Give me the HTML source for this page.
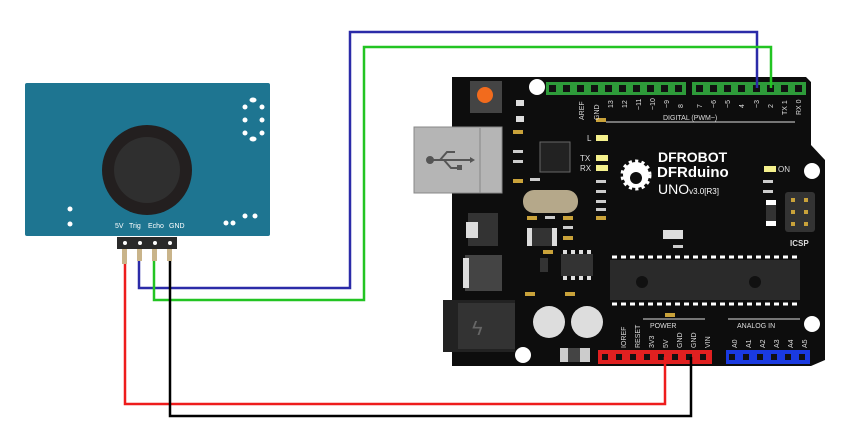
<!DOCTYPE html>
<html><head><meta charset="utf-8"><style>
html,body{margin:0;padding:0;background:#fff;width:854px;height:430px;overflow:hidden}
svg text{font-family:"Liberation Sans",sans-serif}
</style></head><body>
<svg width="854" height="430" viewBox="0 0 854 430" xmlns="http://www.w3.org/2000/svg">
<path d="M452 77 H806 L811 82 V145 L825 160 V360 L811 366 H452 Z" fill="#0d0d0d"/>
<circle cx="537" cy="87" r="8" fill="#fff"/>
<circle cx="812" cy="171" r="8" fill="#fff"/>
<circle cx="812" cy="324" r="8" fill="#fff"/>
<circle cx="523" cy="355" r="8" fill="#fff"/>
<rect x="470" y="81" width="32" height="32" fill="#444"/>
<circle cx="485" cy="95" r="8" fill="#f26b1d"/>
<rect x="516" y="100" width="8" height="6" fill="#ddd"/><rect x="516" y="116" width="8" height="6" fill="#ddd"/>
<!-- USB -->
<rect x="414" y="127" width="88" height="66" fill="#b5b5b5" stroke="#888"/>
<line x1="480" y1="128" x2="480" y2="193" stroke="#888"/>
<g stroke="#555" stroke-width="2" fill="#555"><line x1="430" y1="160" x2="470" y2="160"/><circle cx="430" cy="160" r="3"/><polyline points="440,160 447,152 455,152" fill="none"/><polyline points="444,160 451,168 458,168" fill="none"/><rect x="457" y="165" width="5" height="5" stroke="none"/><polygon points="470,157 475,160 470,163" stroke="none"/></g>
<!-- small smd parts -->
<g fill="#c9a23a"><rect x="513" y="130" width="10" height="4"/><rect x="513" y="179" width="10" height="4"/><rect x="527" y="216" width="10" height="4"/><rect x="563" y="216" width="10" height="4"/><rect x="563" y="236" width="10" height="4"/><rect x="543" y="250" width="10" height="4"/><rect x="525" y="292" width="10" height="4"/><rect x="565" y="292" width="10" height="4"/><rect x="665" y="313" width="10" height="4"/><rect x="596" y="216" width="10" height="4"/><rect x="596" y="118" width="10" height="4"/></g>
<g fill="#ccc"><rect x="513" y="150" width="10" height="3"/><rect x="513" y="160" width="10" height="3"/><rect x="530" y="178" width="10" height="3"/><rect x="545" y="216" width="10" height="3"/><rect x="596" y="180" width="10" height="3"/><rect x="596" y="190" width="10" height="3"/><rect x="596" y="200" width="10" height="3"/><rect x="596" y="208" width="10" height="3"/><rect x="763" y="180" width="10" height="3"/><rect x="763" y="190" width="10" height="3"/><rect x="563" y="226" width="10" height="3"/><rect x="673" y="245" width="10" height="3"/></g>
<rect x="663" y="230" width="20" height="9" fill="#ddd"/>
<rect x="766" y="200" width="10" height="26" fill="#fff"/><rect x="766" y="205" width="10" height="16" fill="#333"/>
<rect x="527" y="228" width="30" height="18" fill="#ddd"/><rect x="532" y="228" width="20" height="18" fill="#333"/>
<rect x="540" y="258" width="8" height="14" fill="#333"/>
<rect x="540" y="142" width="30" height="30" fill="#222" stroke="#666"/>
<rect x="523" y="190" width="55" height="23" rx="11" fill="#b5a88a"/>
<rect x="468" y="213" width="30" height="33" fill="#333"/>
<rect x="466" y="222" width="12" height="16" fill="#ddd"/>
<rect x="465" y="255" width="37" height="36" fill="#444"/>
<rect x="463" y="258" width="6" height="30" fill="#ddd"/>
<rect x="443" y="300" width="72" height="52" fill="#222"/>
<rect x="458" y="303" width="57" height="46" fill="#333"/>
<text x="472" y="335" font-size="20" fill="#666">ϟ</text>
<circle cx="549" cy="322" r="16" fill="#ddd"/><circle cx="587" cy="322" r="16" fill="#ddd"/>
<rect x="560" y="348" width="30" height="14" fill="#ccc"/><rect x="568" y="348" width="12" height="14" fill="#444"/>
<rect x="561" y="254" width="32" height="22" fill="#333"/>
<g fill="#ddd"><rect x="563" y="250" width="4" height="4"/><rect x="571" y="250" width="4" height="4"/><rect x="579" y="250" width="4" height="4"/><rect x="587" y="250" width="4" height="4"/><rect x="563" y="276" width="4" height="4"/><rect x="571" y="276" width="4" height="4"/><rect x="579" y="276" width="4" height="4"/><rect x="587" y="276" width="4" height="4"/></g>
<rect x="610" y="260" width="190" height="40" fill="#2a2a2a"/>
<circle cx="642" cy="282" r="6" fill="#111"/><circle cx="755" cy="282" r="6" fill="#111"/>
<line x1="612" y1="257" x2="798" y2="257" stroke="#fff" stroke-width="3" stroke-dasharray="5 4"/>
<line x1="612" y1="304" x2="798" y2="304" stroke="#fff" stroke-width="3" stroke-dasharray="5 4"/>
<rect x="785" y="192" width="30" height="40" rx="3" fill="#333"/>
<g fill="#c9a23a"><rect x="791" y="198" width="4" height="4"/><rect x="804" y="198" width="4" height="4"/><rect x="791" y="210" width="4" height="4"/><rect x="804" y="210" width="4" height="4"/><rect x="791" y="222" width="4" height="4"/><rect x="804" y="222" width="4" height="4"/></g>
<text x="790" y="246" font-size="8" fill="#ddd" font-weight="bold">ICSP</text>
<rect x="596" y="135" width="12" height="6" fill="#f4f08c"/>
<rect x="596" y="155" width="12" height="6" fill="#f4f08c"/>
<rect x="596" y="165" width="12" height="6" fill="#f4f08c"/>
<rect x="764" y="166" width="12" height="6" fill="#f4f08c"/>
<text x="587" y="141" font-size="8" fill="#ddd">L</text>
<text x="580" y="161" font-size="8" fill="#ddd">TX</text>
<text x="580" y="171" font-size="8" fill="#ddd">RX</text>
<text x="778" y="172" font-size="8" fill="#ddd">ON</text>
<circle cx="636" cy="175" r="13" fill="#fff"/><circle cx="636" cy="175" r="13" fill="none" stroke="#fff" stroke-width="5" stroke-dasharray="3 3"/><circle cx="636" cy="178" r="6" fill="#0d0d0d"/>
<text x="658" y="162" font-size="14" fill="#fff" font-weight="bold">DFROBOT</text>
<text x="657" y="177" font-size="15" fill="#fff" font-weight="bold">DFRduino</text>
<text x="658" y="194" font-size="14" fill="#fff">UNO<tspan font-size="8">v3.0[R3]</tspan></text>
<rect x="546" y="82" width="140" height="13" fill="#2e9b3a"/>
<rect x="692" y="82" width="114" height="13" fill="#2e9b3a"/>
<g fill="#111">
<rect x="549" y="85" width="7" height="7"/><rect x="563" y="85" width="7" height="7"/><rect x="577" y="85" width="7" height="7"/><rect x="591" y="85" width="7" height="7"/><rect x="605" y="85" width="7" height="7"/><rect x="619" y="85" width="7" height="7"/><rect x="633" y="85" width="7" height="7"/><rect x="647" y="85" width="7" height="7"/><rect x="661" y="85" width="7" height="7"/><rect x="675" y="85" width="7" height="7"/>
<rect x="696" y="85" width="7" height="7"/><rect x="710" y="85" width="7" height="7"/><rect x="724" y="85" width="7" height="7"/><rect x="738" y="85" width="7" height="7"/><rect x="753" y="85" width="7" height="7"/><rect x="767" y="85" width="7" height="7"/><rect x="781" y="85" width="7" height="7"/><rect x="795" y="85" width="7" height="7"/>
</g>
<line x1="606" y1="122" x2="795" y2="122" stroke="#ddd"/>
<text x="663" y="120" font-size="7" fill="#ddd">DIGITAL (PWM~)</text>
<rect x="598" y="350" width="114" height="14" fill="#e02020"/>
<rect x="726" y="350" width="84" height="14" fill="#1a3ae0"/>
<g fill="#111">
<rect x="602" y="354" width="6" height="6"/><rect x="616" y="354" width="6" height="6"/><rect x="630" y="354" width="6" height="6"/><rect x="644" y="354" width="6" height="6"/><rect x="658" y="354" width="6" height="6"/><rect x="672" y="354" width="6" height="6"/><rect x="686" y="354" width="6" height="6"/><rect x="700" y="354" width="6" height="6"/>
<rect x="729" y="354" width="6" height="6"/><rect x="743" y="354" width="6" height="6"/><rect x="757" y="354" width="6" height="6"/><rect x="771" y="354" width="6" height="6"/><rect x="785" y="354" width="6" height="6"/><rect x="799" y="354" width="6" height="6"/>
</g>
<line x1="643" y1="319" x2="705" y2="319" stroke="#ddd"/>
<line x1="728" y1="319" x2="800" y2="319" stroke="#ddd"/>
<text x="650" y="328" font-size="7" fill="#ddd">POWER</text>
<text x="737" y="328" font-size="7" fill="#ddd">ANALOG IN</text>
<g font-size="7" fill="#ddd">
<text transform="translate(626,348) rotate(-90)">IOREF</text>
<text transform="translate(640,348) rotate(-90)">RESET</text>
<text transform="translate(654,348) rotate(-90)">3V3</text>
<text transform="translate(668,348) rotate(-90)">5V</text>
<text transform="translate(682,348) rotate(-90)">GND</text>
<text transform="translate(696,348) rotate(-90)">GND</text>
<text transform="translate(710,348) rotate(-90)">VIN</text>
<text transform="translate(737,348) rotate(-90)">A0</text>
<text transform="translate(751,348) rotate(-90)">A1</text>
<text transform="translate(765,348) rotate(-90)">A2</text>
<text transform="translate(779,348) rotate(-90)">A3</text>
<text transform="translate(793,348) rotate(-90)">A4</text>
<text transform="translate(807,348) rotate(-90)">A5</text>
<text transform="translate(584,120) rotate(-90)">AREF</text>
<text transform="translate(599,120) rotate(-90)">GND</text>
<text transform="translate(613,108) rotate(-90)">13</text>
<text transform="translate(627,108) rotate(-90)">12</text>
<text transform="translate(641,110) rotate(-90)">~11</text>
<text transform="translate(655,110) rotate(-90)">~10</text>
<text transform="translate(669,108) rotate(-90)">~9</text>
<text transform="translate(683,108) rotate(-90)">8</text>
<text transform="translate(702,108) rotate(-90)">7</text>
<text transform="translate(716,108) rotate(-90)">~6</text>
<text transform="translate(730,108) rotate(-90)">~5</text>
<text transform="translate(744,108) rotate(-90)">4</text>
<text transform="translate(759,108) rotate(-90)">~3</text>
<text transform="translate(773,108) rotate(-90)">2</text>
<text transform="translate(787,115) rotate(-90)">TX 1</text>
<text transform="translate(801,115) rotate(-90)">RX 0</text>
</g>
<rect x="25" y="83" width="245" height="153" rx="2" fill="#1e7591"/>
<circle cx="147" cy="170" r="45" fill="#231f1f"/>
<circle cx="147" cy="170" r="33" fill="#2f2f2f"/>
<g fill="#fff">
<circle cx="245" cy="107" r="2.5"/><circle cx="262" cy="107" r="2.5"/><circle cx="245" cy="120" r="2.5"/><circle cx="262" cy="120" r="2.5"/><circle cx="245" cy="133" r="2.5"/><circle cx="262" cy="133" r="2.5"/>
<ellipse cx="253" cy="100" rx="3.5" ry="2.5"/><ellipse cx="253" cy="139" rx="3.5" ry="2.5"/>
<circle cx="70" cy="209" r="2.5"/><circle cx="70" cy="224" r="2.5"/>
<circle cx="226" cy="223" r="2.5"/><circle cx="233" cy="223" r="2.5"/><circle cx="245" cy="216" r="2.5"/><circle cx="255" cy="216" r="2.5"/>
</g>
<g font-size="7" fill="#fff"><text x="115" y="228">5V</text><text x="129" y="228">Trig</text><text x="148" y="228">Echo</text><text x="169" y="228">GND</text></g>
<rect x="117" y="237" width="60" height="12" fill="#2a2a2a"/>
<g fill="#fff"><circle cx="125" cy="243" r="2"/><circle cx="140" cy="243" r="2"/><circle cx="155" cy="243" r="2"/><circle cx="170" cy="243" r="2"/></g>
<g fill="#c9b48a"><rect x="122" y="249" width="5" height="15"/><rect x="137" y="249" width="5" height="12"/><rect x="152" y="249" width="5" height="12"/><rect x="167" y="249" width="5" height="12"/></g>
<g fill="none" stroke-width="2.5">
<path d="M125 264 V404 H665 V357" stroke="#ee1c1c"/>
<path d="M139 261 V288 H350 V32 H757 V88" stroke="#2b2ba8"/>
<path d="M154 261 V300 H364 V47 H771 V88" stroke="#22c422"/>
<path d="M170 261 V416 H691 V357" stroke="#000"/>
</g>
</svg>
</body></html>
